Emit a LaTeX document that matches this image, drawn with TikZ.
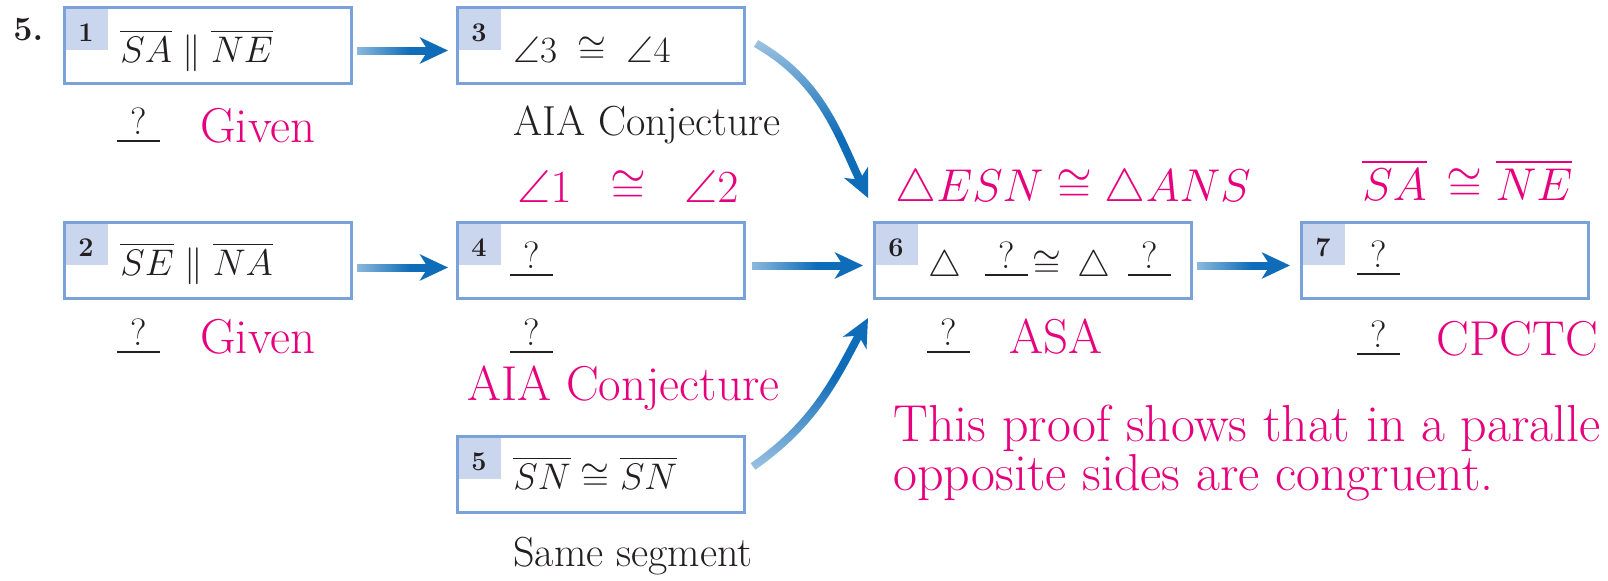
\RequirePackage{fix-cm}
\documentclass[tikz,border=0pt]{standalone}
\usepackage{amssymb}
\usetikzlibrary{arrows.meta,positioning,backgrounds,fadings}

\definecolor{flowblue}{RGB}{14,108,184}
\definecolor{boxline}{RGB}{122,162,216}
\definecolor{tabfill}{RGB}{201,214,238}
\definecolor{answer}{RGB}{230,0,126}
\definecolor{ink}{RGB}{35,31,32}

% blank with a question mark over it
\newcommand{\qblank}{\makebox[21.5pt]{\fontsize{19}{19}\selectfont\raisebox{4pt}{?}}\llap{\textcolor{ink}{\rule{21.5pt}{0.9pt}}}}
\newcommand{\ansfont}{\fontsize{24.5}{24}\selectfont\color{answer}}

% arrows fade in from their tail
\pgfdeclarehorizontalshading{tailright}{100bp}{color(0bp)=(black!85); color(15bp)=(black!80); color(55bp)=(white); color(100bp)=(white)}
\pgfdeclarefading{fade right}{\pgfuseshading{tailright}}
\pgfdeclareverticalshading{taildown}{100bp}{color(0bp)=(white); color(45bp)=(white); color(85bp)=(black!80); color(100bp)=(black!85)}
\pgfdeclarefading{fade down}{\pgfuseshading{taildown}}
\pgfdeclareverticalshading{tailup}{100bp}{color(0bp)=(black!85); color(15bp)=(black!80); color(55bp)=(white); color(100bp)=(white)}
\pgfdeclarefading{fade up}{\pgfuseshading{tailup}}

\begin{document}
\begin{tikzpicture}[
    x=0.5pt, y=-0.5pt,
    node distance=68pt and 51.5pt,
    stepbox/.style={draw=boxline, line width=1.5pt, minimum width=143.5pt, minimum height=38pt, inner sep=0pt},
    tab/.style={fill=tabfill, minimum width=22.5pt, minimum height=22pt, inner sep=0pt, text height=13.5pt, text depth=0pt, text=ink, font=\fontsize{13.5}{13.5}\selectfont\bfseries},
    stmt/.style={anchor=base west, inner sep=0pt, text=ink, font=\fontsize{18.5}{22}\selectfont},
    reason/.style={anchor=base west, inner sep=0pt, text=ink, font=\fontsize{21}{22}\selectfont},
    ans/.style={anchor=base west, inner sep=0pt, text=answer, font=\fontsize{24.5}{24}\selectfont},
    mathans/.style={ans, font=\fontsize{23}{23}\selectfont},
    flow/.style={draw=flowblue, line width=4pt, -{Stealth[length=14pt, width=13pt, inset=4pt]}},
]
\useasboundingbox (0,0) rectangle (1608,580);

\node[anchor=base west, inner sep=0pt, text=ink, font=\fontsize{17}{17}\selectfont\bfseries] (num) at (13,40) {5.};

% proof steps
\node[stepbox, anchor=north west] (s1) at (63,6) {};
\node[stepbox, right=of s1] (s3) {};
\node[stepbox, below=of s1] (s2) {};
\node[stepbox, right=of s2] (s4) {};
\node[stepbox, below=67.5pt of s4] (s5) {};
\node[stepbox, right=63.5pt of s4, minimum width=158.5pt] (s6) {};
\node[stepbox, right=53.5pt of s6] (s7) {};

\begin{scope}[on background layer]
    \fill[white] (0,0) rectangle (1608,580);
    \foreach \n in {1,...,7}
        \node[tab, anchor=north west] (t\n) at (s\n.north west) {\n};
\end{scope}

% statements
\node[stmt] (p1) at ([xshift=28.5pt, yshift=-28pt]s1.north west) {$\overline{SA}\parallel\overline{NE}$};
\node[stmt] (p2) at ([xshift=28.5pt, yshift=-27pt]s2.north west) {$\overline{SE}\parallel\overline{NA}$};
\node[stmt] (p3) at ([xshift=28.5pt, yshift=-28pt]s3.north west) {$\angle 3 \;\cong\; \angle 4$};
\node[stmt] (p4) at ([xshift=27pt, yshift=-27.5pt]s4.north west) {\qblank};
\node[stmt] (p5) at ([xshift=28.5pt, yshift=-27pt]s5.north west) {$\overline{SN}\cong\overline{SN}$};
\node[stmt] (p6) at ([xshift=27.5pt, yshift=-27.5pt]s6.north west) {$\triangle$\hspace{12pt}\qblank\hspace{2pt}$\cong$\hspace{8pt}$\triangle$\hspace{9pt}\qblank};
\node[stmt] (p7) at ([xshift=28.5pt, yshift=-27pt]s7.north west) {\qblank};

% reasons and answers
\node[stmt] (r1) at ([xshift=27pt, yshift=-28.5pt]s1.south west) {\qblank\hspace{20pt}{\ansfont Given}};
\node[stmt] (r2) at ([xshift=27pt, yshift=-26.5pt]s2.south west) {\qblank\hspace{20pt}{\ansfont Given}};
\node[reason] (r3) at ([xshift=28.5pt, yshift=-25pt]s3.south west) {AIA Conjecture};
\node[mathans] (g4) at ([xshift=30.5pt, yshift=9.5pt]s4.north west) {$\angle 1 \;\;\cong\;\; \angle 2$};
\node[stmt] (r4q) at ([xshift=27pt, yshift=-26.5pt]s4.south west) {\qblank};
\node[ans] (r4) at ([xshift=5.5pt, yshift=-50pt]s4.south west) {AIA Conjecture};
\node[reason] (r5) at ([xshift=28.5pt, yshift=-26pt]s5.south west) {Same segment};
\node[mathans] (g6) at ([xshift=11pt, yshift=10pt]s6.north west) {$\triangle ESN \cong \triangle ANS$};
\node[stmt] (r6) at ([xshift=27pt, yshift=-26.5pt]s6.south west) {\qblank\hspace{19.5pt}{\ansfont ASA}};
\node[mathans] (g7) at ([xshift=31pt, yshift=10.5pt]s7.north west) {$\overline{SA}\,\cong\overline{NE}$};
\node[stmt] (r7) at ([xshift=28.5pt, yshift=-27.5pt]s7.south west) {\qblank\hspace{18pt}{\ansfont CPCTC}};

\node[ans, align=left, font=\fontsize{26}{23}\selectfont] (note) at (893,490) {This proof shows that in a paralle\\opposite sides are congruent.};

% flow arrows
\draw[flow, path fading=fade right] ([yshift=8pt]s1.east) ([yshift=-13pt]s1.east)
    ([xshift=2pt, yshift=-2.5pt]s1.east) -- ([xshift=-4pt, yshift=-2.5pt]s3.west);
\draw[flow, path fading=fade right] ([yshift=7pt]s2.east) ([yshift=-14pt]s2.east)
    ([xshift=2pt, yshift=-3.5pt]s2.east) -- ([xshift=-4pt, yshift=-3.5pt]s4.west);
\draw[flow, path fading=fade right] ([yshift=8pt]s4.east) ([yshift=-13pt]s4.east)
    ([xshift=3pt, yshift=-2.5pt]s4.east) -- ([xshift=-5pt, yshift=-2.5pt]s6.west);
\draw[flow, path fading=fade right] ([yshift=8pt]s6.east) ([yshift=-13pt]s6.east)
    ([xshift=2pt, yshift=-2.5pt]s6.east) -- ([xshift=-5pt, yshift=-2.5pt]s7.west);
\draw[flow, path fading=fade down] ([xshift=5pt, yshift=1pt]s3.east)
    to[out=-30, in=115] ([xshift=-2.5pt, yshift=11.5pt]s6.north west);
\draw[flow, path fading=fade up] ([xshift=3.5pt, yshift=4pt]s5.east)
    to[out=35, in=-118] ([xshift=-2.5pt, yshift=-9pt]s6.south west);
\end{tikzpicture}
\end{document}
